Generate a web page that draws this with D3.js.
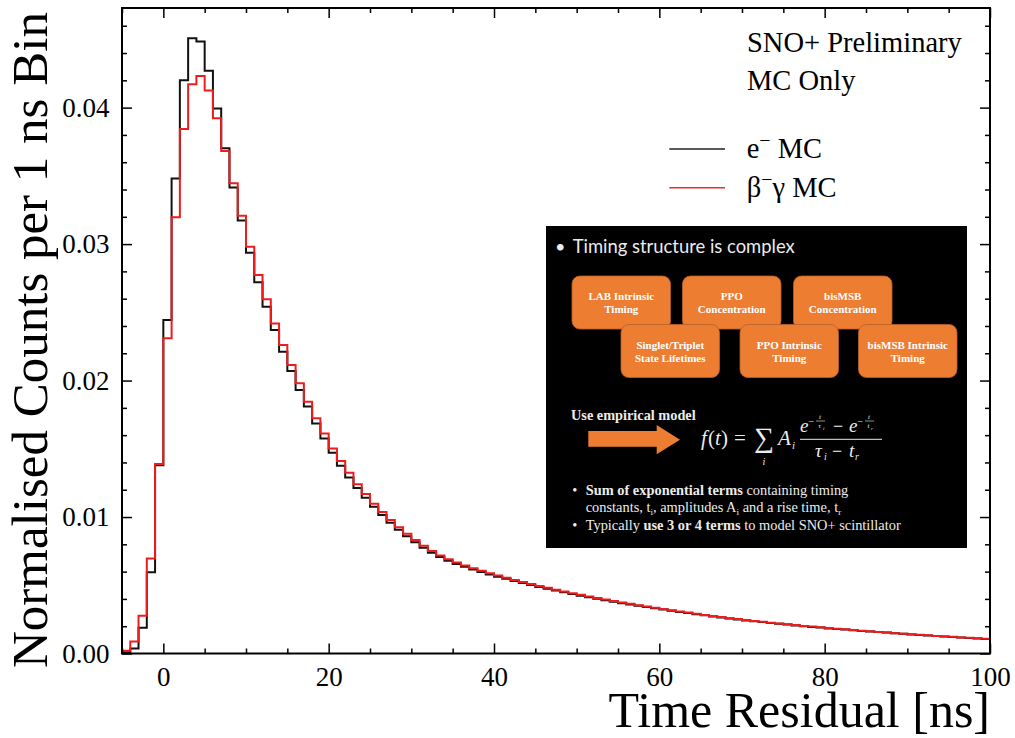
<!DOCTYPE html>
<html><head><meta charset="utf-8">
<script src="https://cdn.jsdelivr.net/npm/d3@7"></script>
<style>body{margin:0;background:#fff;} svg{display:block;}</style>
</head><body>
<svg id="chart" width="1015" height="738"></svg>
<script>
// ---------------- DATA ----------------
// 1 ns bins, left edges from -5 ns to 99 ns
const binEdges = d3.range(-5, 101);
// e- MC (black)
const electronMC = [
 0.00010,0.00037,0.00188,0.00596,0.01380,
 0.02444,0.03480,0.04200,0.04509,0.04484,0.04271,0.03993,0.03702,0.03414,0.03172,
 0.02937,0.02720,0.02541,0.02370,0.02211,0.02070,0.01930,0.01810,0.01686,0.01576,
 0.01471,0.01375,0.01290,0.01212,0.01142,0.01075,0.01014,0.00958,0.00906,0.00859,
 0.00815,0.00775,0.00739,0.00707,0.00679,0.00655,0.00635,0.00615,0.00597,0.00579,
 0.00562,0.00547,0.00531,0.00516,0.00502,0.00488,0.00474,0.00461,0.00449,0.00436,
 0.00424,0.00412,0.00401,0.00390,0.00379,0.00369,0.00359,0.00349,0.00340,0.00331,
 0.00322,0.00313,0.00304,0.00296,0.00288,0.00280,0.00272,0.00264,0.00256,0.00249,
 0.00242,0.00236,0.00230,0.00224,0.00218,0.00212,0.00206,0.00200,0.00195,0.00190,
 0.00184,0.00179,0.00175,0.00170,0.00165,0.00161,0.00157,0.00153,0.00148,0.00144,
 0.00140,0.00136,0.00132,0.00128,0.00124,0.00121,0.00117,0.00114,0.00110,0.00107
];
// beta- gamma MC (red)
const betaGammaMC = [
 0.00020,0.00088,0.00276,0.00696,0.01388,
 0.02310,0.03196,0.03844,0.04172,0.04232,0.04125,0.03922,0.03683,0.03446,0.03208,
 0.02981,0.02773,0.02595,0.02419,0.02260,0.02114,0.01980,0.01845,0.01723,0.01613,
 0.01503,0.01410,0.01324,0.01240,0.01168,0.01098,0.01036,0.00978,0.00925,0.00877,
 0.00832,0.00790,0.00752,0.00719,0.00690,0.00666,0.00645,0.00625,0.00606,0.00588,
 0.00571,0.00555,0.00539,0.00524,0.00509,0.00495,0.00481,0.00468,0.00455,0.00442,
 0.00430,0.00418,0.00406,0.00395,0.00384,0.00374,0.00364,0.00354,0.00344,0.00335,
 0.00326,0.00317,0.00308,0.00300,0.00291,0.00283,0.00275,0.00267,0.00259,0.00252,
 0.00245,0.00238,0.00232,0.00226,0.00220,0.00214,0.00208,0.00202,0.00197,0.00192,
 0.00186,0.00181,0.00177,0.00172,0.00167,0.00163,0.00158,0.00154,0.00149,0.00145,
 0.00141,0.00137,0.00133,0.00129,0.00125,0.00122,0.00118,0.00115,0.00111,0.00108
];
const xMajorTicks = [0, 20, 40, 60, 80, 100];
const xMinorTicks = [-5, 5, 10, 15, 25, 30, 35, 45, 50, 55, 65, 70, 75, 85, 90, 95];
const yMajorTicks = [0, 0.01, 0.02, 0.03, 0.04];
const yMinorTicks = [0.002,0.004,0.006,0.008,0.012,0.014,0.016,0.018,0.022,0.024,0.026,0.028,0.032,0.034,0.036,0.038,0.042,0.044,0.046];
const seriesNames = ["e\u207B MC", "\u03B2\u207B\u03B3 MC"];
const annotations = ["SNO+ Preliminary", "MC Only"];
const boxLabels = [
  ["LAB Intrinsic","Timing"], ["PPO","Concentration"], ["bisMSB","Concentration"],
  ["Singlet/Triplet","State Lifetimes"], ["PPO Intrinsic","Timing"], ["bisMSB Intrinsic","Timing"]
];

// ---------------- LAYOUT ----------------
const svg = d3.select("#chart");
const L = 122, R = 990, T = 8, B = 653.5;
const x = d3.scaleLinear().domain([-5, 100]).range([L, R]);
const y = d3.scaleLinear().domain([0, 0.0473]).range([B, T]);
const serif = "'Liberation Serif','Times New Roman',serif";

svg.append("defs").append("clipPath").attr("id","plotclip")
  .append("rect").attr("x",L).attr("y",T).attr("width",R-L).attr("height",B-T);

function stepPoints(vals){
  const pts = [[binEdges[0], 0]];
  vals.forEach((v,i)=>{ pts.push([binEdges[i], v]); pts.push([binEdges[i+1], v]); });
  pts.push([binEdges[vals.length], 0]);
  return pts;
}
const line = d3.line().x(d=>x(d[0])).y(d=>y(d[1]));

const plot = svg.append("g").attr("clip-path","url(#plotclip)");
plot.append("path").attr("d", line(stepPoints(electronMC)))
  .attr("fill","none").attr("stroke","#111").attr("stroke-width",2);
plot.append("path").attr("d", line(stepPoints(betaGammaMC)))
  .attr("fill","none").attr("stroke","#ee1c1c").attr("stroke-width",2);

// axes
function styleAxis(g){
  g.select(".domain").remove();
  g.selectAll(".tick line").attr("stroke","#000").attr("stroke-width",1.5);
  g.attr("font-family", serif).attr("font-size", 27);
  g.selectAll("text").attr("fill","#000");
}
svg.append("g").attr("transform",`translate(0,${B})`)
  .call(d3.axisBottom(x).tickValues(xMajorTicks).tickSize(-10).tickPadding(13).tickFormat(d3.format("d"))).call(styleAxis);
svg.append("g").attr("transform",`translate(0,${B})`)
  .call(d3.axisBottom(x).tickValues(xMinorTicks).tickSize(-5).tickFormat("")).call(styleAxis);
svg.append("g").attr("transform",`translate(0,${T})`)
  .call(d3.axisTop(x).tickValues(xMajorTicks).tickSize(-10).tickFormat("")).call(styleAxis);
svg.append("g").attr("transform",`translate(0,${T})`)
  .call(d3.axisTop(x).tickValues(xMinorTicks).tickSize(-5).tickFormat("")).call(styleAxis);
svg.append("g").attr("transform",`translate(${L},0)`)
  .call(d3.axisLeft(y).tickValues(yMajorTicks).tickSize(-10).tickPadding(12.5).tickFormat(d3.format(".2f"))).call(styleAxis);
svg.append("g").attr("transform",`translate(${L},0)`)
  .call(d3.axisLeft(y).tickValues(yMinorTicks).tickSize(-5).tickFormat("")).call(styleAxis);
svg.append("g").attr("transform",`translate(${R},0)`)
  .call(d3.axisRight(y).tickValues(yMajorTicks).tickSize(-10).tickFormat("")).call(styleAxis);
svg.append("g").attr("transform",`translate(${R},0)`)
  .call(d3.axisRight(y).tickValues(yMinorTicks).tickSize(-5).tickFormat("")).call(styleAxis);

svg.append("rect").attr("x",L).attr("y",T).attr("width",R-L).attr("height",B-T)
  .attr("fill","none").attr("stroke","#000").attr("stroke-width",2);

// axis titles
svg.append("text").attr("x",990).attr("y",727).attr("text-anchor","end")
  .attr("font-family",serif).attr("font-size",50).attr("fill","#000").text("Time Residual [ns]");
svg.append("text").attr("transform","translate(47,668) rotate(-90)").attr("text-anchor","start")
  .attr("font-family",serif).attr("font-size",51).attr("fill","#000").text("Normalised Counts per 1 ns Bin");

// annotations
svg.append("text").attr("x",747).attr("y",51.7).attr("font-family",serif).attr("font-size",28.5).text(annotations[0]);
svg.append("text").attr("x",747).attr("y",90).attr("font-family",serif).attr("font-size",28.5).text(annotations[1]);

// legend
const legColors = ["#222","#e83030"];
const legY = [149, 187.7];
const legBase = [158.3, 196.7];
legColors.forEach((c,i)=>{
  svg.append("line").attr("x1",669.3).attr("x2",725).attr("y1",legY[i]).attr("y2",legY[i])
    .attr("stroke",c).attr("stroke-width",1.6);
});
{
  const t = svg.append("text").attr("x",746.7).attr("y",legBase[0]).attr("font-family",serif).attr("font-size",28.5);
  t.append("tspan").text("e");
  t.append("tspan").attr("dy",-11).attr("font-size",20).text("\u2212");
  t.append("tspan").attr("dy",11).text(" MC");
  const t2 = svg.append("text").attr("x",746.7).attr("y",legBase[1]).attr("font-family",serif).attr("font-size",28.5);
  t2.append("tspan").text("\u03B2");
  t2.append("tspan").attr("dy",-11).attr("font-size",20).text("\u2212");
  t2.append("tspan").attr("dy",11).text("\u03B3 MC");
}

// ---------------- INSET (slide image) ----------------
const inset = svg.append("g");
inset.append("rect").attr("x",546).attr("y",226).attr("width",421).attr("height",322).attr("fill","#000");
const fg = "#ececec";
inset.append("text").attr("x",555).attr("y",253.3).attr("font-family","Lato, 'Open Sans', sans-serif")
  .attr("font-size",18).attr("fill",fg).text("\u2022");
inset.append("text").attr("x",572.7).attr("y",253.3).attr("font-family","Lato, 'Open Sans', sans-serif")
  .attr("font-size",18.5).attr("fill",fg).attr("textLength",222).attr("lengthAdjust","spacingAndGlyphs")
  .text("Timing structure is complex");

const boxPos = [[572,276],[682.5,276],[793.5,276],[621,324.5],[740,324.5],[858.5,324.5]];
boxLabels.forEach((lb,i)=>{
  const [bx,by] = boxPos[i];
  inset.append("rect").attr("x",bx).attr("y",by).attr("width",98.5).attr("height",53).attr("rx",8)
    .attr("fill","#ed7d31").attr("stroke","#b5612a").attr("stroke-width",0.8);
  lb.forEach((s,j)=>{
    inset.append("text").attr("x",bx+49.25).attr("y",by+24+j*13).attr("text-anchor","middle")
      .attr("font-family",serif).attr("font-weight","bold").attr("font-size",11).attr("fill","#fff").text(s);
  });
});

inset.append("text").attr("x",571).attr("y",420).attr("font-family",serif).attr("font-weight","bold")
  .attr("font-size",14.3).attr("fill",fg).text("Use empirical model");
inset.append("path").attr("d","M588.3,431 L656.7,431 L656.7,425 L680,439.7 L656.7,454.3 L656.7,446.7 L588.3,446.7 Z")
  .attr("fill","#ed7d31");

// formula
const fml = inset.append("g").attr("fill",fg);
function ft(xx,yy,s,size,opts){ const t=fml.append("text").attr("x",xx).attr("y",yy).attr("font-size",size)
  .attr("font-family",serif).text(s);
  if(opts&&opts.italic) t.attr("font-style","italic"); if(opts&&opts.anchor) t.attr("text-anchor",opts.anchor); return t; }
ft(701,445,"f",21,{italic:true});
ft(708,445,"(",21);
ft(715,445,"t",21,{italic:true});
ft(721,445,")",21);
ft(734,445,"=",21);
ft(764,447,"\u2211",28,{anchor:"middle"});
ft(764,465,"i",10,{italic:true,anchor:"middle"});
ft(778,445,"A",21,{italic:true});
ft(792,449,"i",11,{italic:true});
fml.append("line").attr("x1",800).attr("x2",882).attr("y1",439.3).attr("y2",439.3).attr("stroke",fg).attr("stroke-width",1);
ft(800,432,"e",19,{italic:true});
ft(808.5,425,"\u2212",10);
ft(820,419,"t",7,{italic:true,anchor:"middle"});
fml.append("line").attr("x1",816).attr("x2",825).attr("y1",421).attr("y2",421).attr("stroke",fg).attr("stroke-width",0.6);
ft(819.5,428,"\u03C4",7,{italic:true,anchor:"middle"});
ft(823,429.5,"i",5,{italic:true});
ft(833,432,"\u2212",18);
ft(849,432,"e",19,{italic:true});
ft(857.5,425,"\u2212",10);
ft(869,419,"t",7,{italic:true,anchor:"middle"});
fml.append("line").attr("x1",865).attr("x2",874).attr("y1",421).attr("y2",421).attr("stroke",fg).attr("stroke-width",0.6);
ft(868.5,428,"t",7,{italic:true,anchor:"middle"});
ft(871,429.5,"r",5,{italic:true});
ft(815,456.7,"\u03C4",19,{italic:true});
ft(824,460,"i",10,{italic:true});
ft(832,456.7,"\u2212",18);
ft(849,456.7,"t",19,{italic:true});
ft(855,460,"r",10,{italic:true});

// bullets
const bfs = 14.4;
function bulletLine(yy, parts, bullet){
  if(bullet) inset.append("text").attr("x",572.3).attr("y",yy).attr("font-family",serif).attr("font-size",bfs).attr("fill",fg).text("\u2022");
  const t = inset.append("text").attr("x",585.7).attr("y",yy).attr("font-family",serif).attr("font-size",bfs).attr("fill",fg);
  parts.forEach(p=>{
    const s = t.append("tspan").text(p.s);
    if(p.b) s.attr("font-weight","bold");
    if(p.sub){ s.attr("font-size",9).attr("dy",3); }
    if(p.back){ s.attr("dy",-3); }
  });
}
bulletLine(495,[{s:"Sum of exponential terms",b:true},{s:" containing timing"}],true);
bulletLine(512.3,[{s:"constants, t"},{s:"i",sub:true},{s:", amplitudes A",back:true},{s:"i",sub:true},{s:" and a rise time, t",back:true},{s:"r",sub:true}],false);
bulletLine(530,[{s:"Typically "},{s:"use 3 or 4 terms",b:true},{s:" to model SNO+ scintillator"}],true);
</script>
</body></html>
